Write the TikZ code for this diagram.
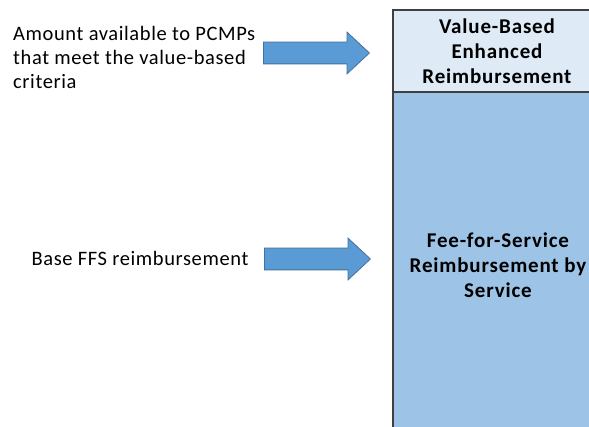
\documentclass[tikz,border=0pt]{standalone}
\usepackage{fontspec}
\setmainfont{Carlito}
\newfontfamily\widefont[LetterSpace=3]{Carlito}
\newfontfamily\widebold[LetterSpace=4]{Carlito Bold}
\usetikzlibrary{shapes.arrows}
\definecolor{valuefill}{HTML}{DEEBF7}
\definecolor{ffsfill}{HTML}{9DC3E6}
\definecolor{arrowfill}{HTML}{5B9BD5}
\definecolor{arrowline}{HTML}{41719C}
\definecolor{boxline}{HTML}{404040}

\begin{document}
\begin{tikzpicture}[
  x=1pt, y=-1pt,
  part/.style={rectangle, draw=boxline, line width=1.8pt, minimum width=210pt, inner sep=0pt, anchor=north west},
  fat/.style={single arrow, draw=arrowline, fill=arrowfill, line width=0.8pt, inner sep=0pt, text height=10.5pt, text depth=10.5pt, minimum height=106pt, single arrow head extend=10pt, single arrow tip angle=86, anchor=west},
  label/.style={font=\widefont\fontsize{20.5}{24}\selectfont, align=left, inner sep=0pt},
  inside/.style={font=\widebold\fontsize{21}{25}\selectfont, align=center, inner sep=0pt}
]
\useasboundingbox (0,0) rectangle (589,427);
\fill[white] (0,0) rectangle (589,427);

% stacked payment column
\node[part, fill=valuefill, minimum height=82pt] (top) at (392,9) {};
\node[part, fill=ffsfill, minimum height=337pt] (base) at (392,91) {};
\node[inside] (toptext) at (497,51) {Value-Based\\Enhanced\\Reimbursement};
\node[inside] (basetext) at (498,265) {Fee-for-Service\\Reimbursement by\\Service};

% labels on the left
\node[label, anchor=west] (amount) at (13,57) {Amount available to PCMPs\\that meet the value-based\\criteria};
\node[label] (ffs) at (140,258) {Base FFS reimbursement};

% block arrows
\node[fat] (arr1) at (263,53) {};
\node[fat] (arr2) at (264,259) {};
\end{tikzpicture}
\end{document}
